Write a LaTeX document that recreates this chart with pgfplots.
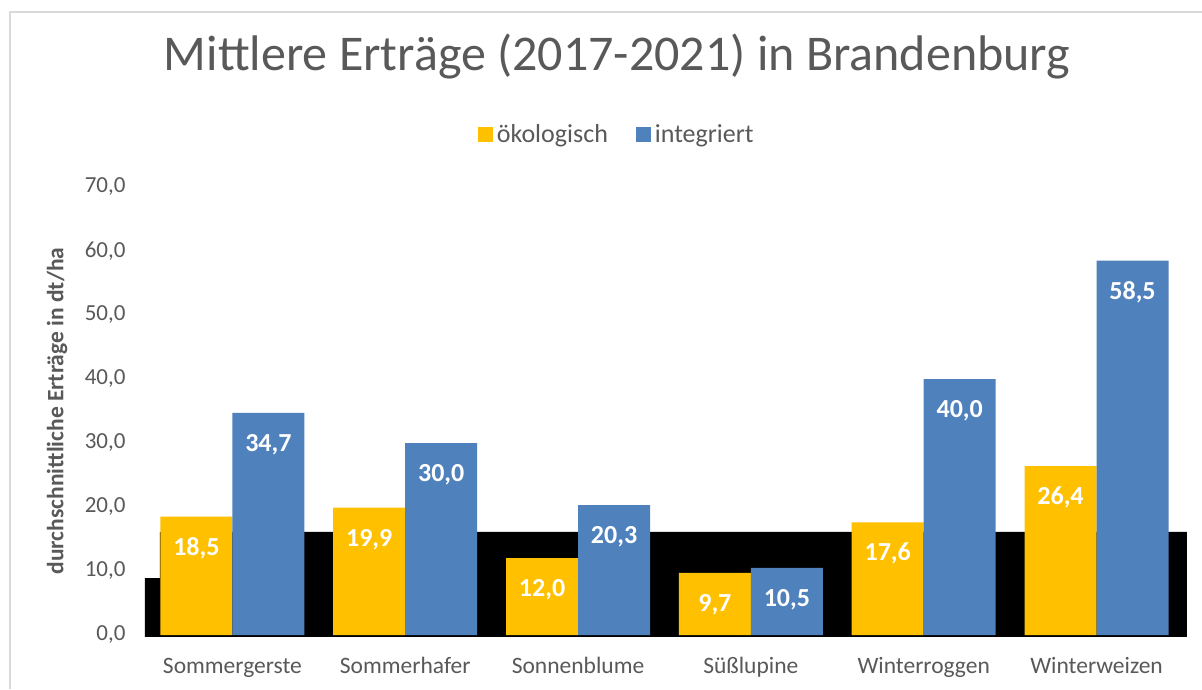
\documentclass[border=0pt]{standalone}
\usepackage{pgfplots}
\pgfplotsset{compat=1.18}
\usepackage{fontspec}
\setmainfont{Carlito}
\definecolor{oeko}{HTML}{FFC000}
\definecolor{integ}{HTML}{4F81BD}
\definecolor{txt}{HTML}{595959}
\begin{document}
\begin{tikzpicture}
\useasboundingbox (0,0) rectangle (1202pt,689pt);
\fill[white] (0,0) rectangle (1202pt,689pt);
\draw[black!15, line width=2pt] (10pt,0) -- (10pt,677pt) -- (1202pt,677pt);
\pgfkeys{/pgf/number format/.cd, use comma, fixed, fixed zerofill, precision=1, assume math mode=true}
\node[anchor=base, text=txt, font=\fontsize{50pt}{60pt}\selectfont] at (617pt,618pt) {Mittlere Erträge (2017-2021) in Brandenburg};
\begin{axis}[
  at={(146pt,54pt)}, anchor=south west,
  scale only axis, width=1037pt, height=448pt,
  xmin=-0.5, xmax=5.5, ymin=0, ymax=70,
  clip=false,
  axis line style={draw=none},
  major tick length=0pt,
  xtick={0,1,2,3,4,5},
  xticklabels={Sommergerste,Sommerhafer,Sonnenblume,Süßlupine,Winterroggen,Winterweizen},
  xticklabel style={anchor=base, yshift=-38pt, text=txt, font=\fontsize{23.5pt}{28pt}\selectfont},
  ytick={0,10,...,70},
  yticklabel style={anchor=east, xshift=-17pt, text=txt, font=\fontsize{23pt}{28pt}\selectfont},
  ylabel={durchschnittliche Erträge in dt/ha},
  ylabel style={at={(axis description cs:-0.0858,0.5)}, anchor=center, text=txt, font=\bfseries\fontsize{23.5pt}{28pt}\selectfont},
  legend style={at={(axis description cs:0.454,1.118)}, anchor=center, draw=none, fill=none,
     legend columns=2, font=\fontsize{26pt}{30pt}\selectfont, text=txt,
     /tikz/every even column/.append style={column sep=26pt}},
  legend image code/.code={\fill[#1] (0pt,-7.5pt) rectangle (15pt,7.5pt); \path (17pt,0pt);},
]
\addplot[fill=black, draw=none, forget plot, sharp plot] coordinates {
  (-0.506,-0.3) (-0.506,8.9) (-0.42,8.9) (-0.42,16.1) (5.523,16.1) (5.523,-0.3) (-0.506,-0.3)} -- cycle;
\addplot[ybar, bar width=72pt, bar shift=-36pt, fill=oeko, draw=none,
  nodes near coords, nodes near coords style={anchor=base, xshift=-36pt, yshift=-38.5pt, text=white, font=\bfseries\fontsize{26pt}{30pt}\selectfont}]
  coordinates {(0,18.5) (1,19.9) (2,12.0) (3,9.7) (4,17.6) (5,26.4)};
\addlegendentry{ökologisch}
\addplot[ybar, bar width=72pt, bar shift=36pt, fill=integ, draw=none,
  nodes near coords, nodes near coords style={anchor=base, xshift=36pt, yshift=-38.5pt, text=white, font=\bfseries\fontsize{26pt}{30pt}\selectfont}]
  coordinates {(0,34.7) (1,30.0) (2,20.3) (3,10.5) (4,40.0) (5,58.5)};
\addlegendentry{integriert}
\end{axis}
\end{tikzpicture}
\end{document}
